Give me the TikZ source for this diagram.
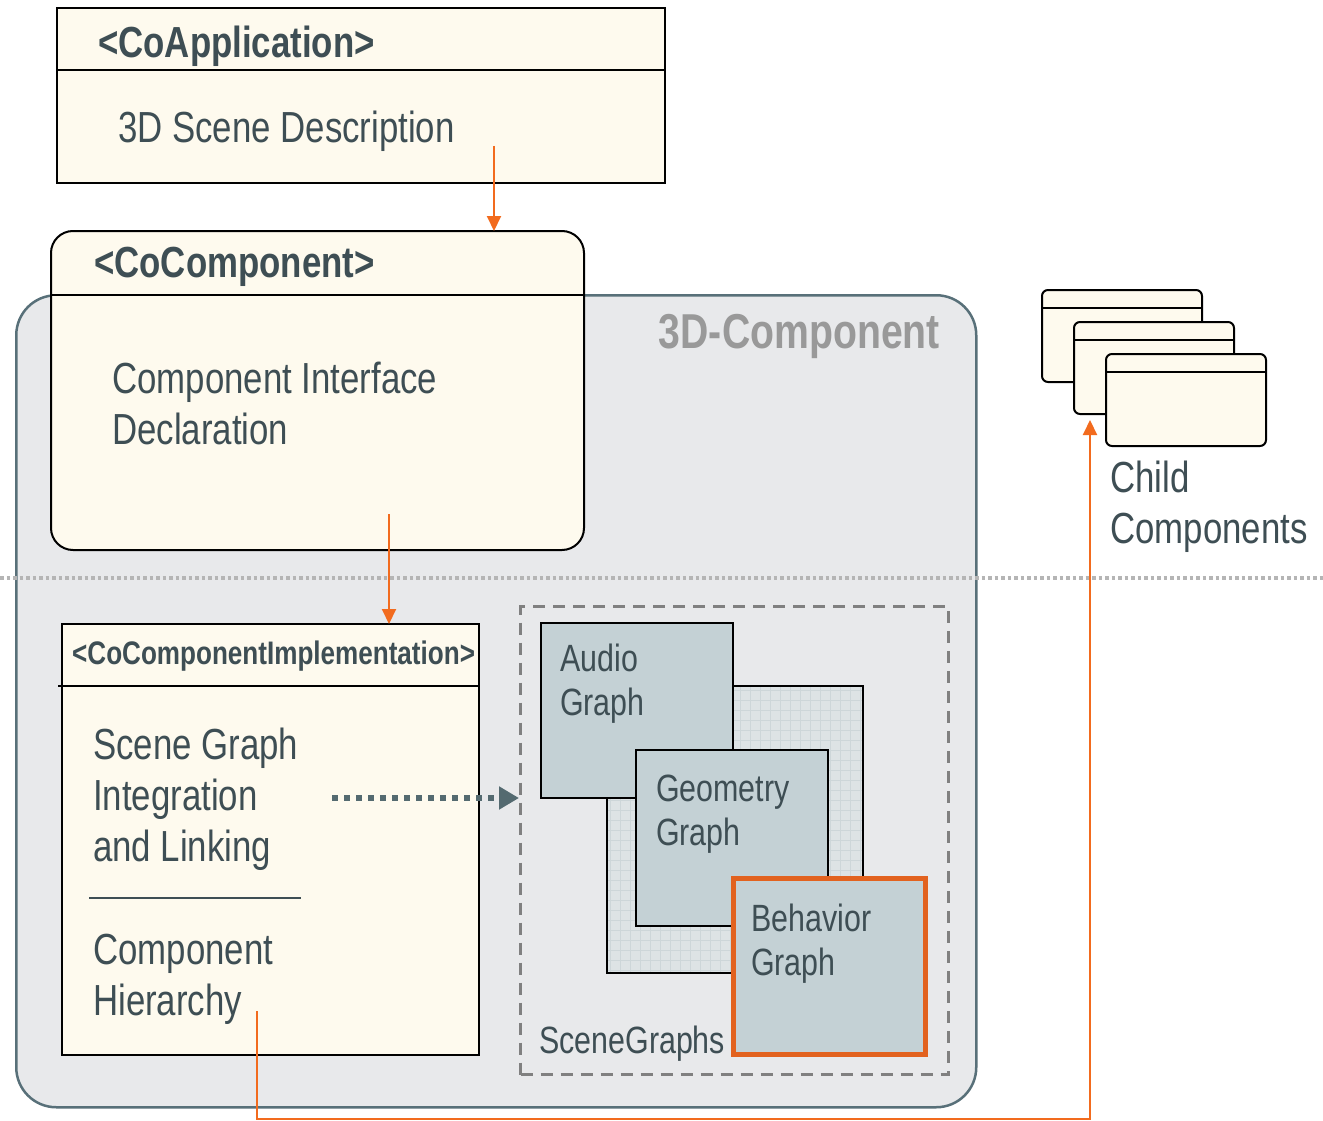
\documentclass[tikz,border=0pt]{standalone}
\usepackage{fontspec}
\setmainfont{Liberation Sans}[FakeStretch=0.8]
\usetikzlibrary{arrows.meta}

\definecolor{cream}{HTML}{FEFAEE}
\definecolor{panel}{HTML}{E8E9EB}
\definecolor{panelrim}{HTML}{587079}
\definecolor{slate}{HTML}{3E4E54}
\definecolor{sgfill}{HTML}{C4D1D5}
\definecolor{gridfill}{HTML}{DDE3E5}
\definecolor{gridline}{HTML}{CDD6D9}
\definecolor{flow}{HTML}{F26B1E}
\definecolor{hilite}{HTML}{E2621F}
\definecolor{dashgray}{HTML}{808080}
\definecolor{dotgray}{HTML}{B5B5B5}
\definecolor{linkgray}{HTML}{546A70}
\definecolor{titlegray}{HTML}{999999}

\tikzset{
  box/.style={draw=black, line width=2pt, fill=cream, inner sep=0pt, outer sep=0pt, anchor=north west},
  graphbox/.style={draw=black, line width=2pt, fill=sgfill, inner sep=0pt, outer sep=0pt, anchor=north west},
  body/.style={text=slate, inner sep=0pt, anchor=west, align=left, font=\fontsize{43.5}{51}\selectfont},
  small/.style={text=slate, inner sep=0pt, anchor=west, align=left, font=\fontsize{38}{44}\selectfont},
  head/.style={text=slate, inner sep=0pt, anchor=west, font=\bfseries\fontsize{43.5}{51}\selectfont},
  flowarrow/.style={draw=flow, line width=2pt, -{Triangle[length=15pt,width=14pt]}},
}

\begin{document}
\begin{tikzpicture}[x=1pt,y=-1pt]
\useasboundingbox[fill=white] (0,0) rectangle (1323,1121);

% container of the 3D component
\node[draw=panelrim, line width=2.5pt, fill=panel, rounded corners=40pt, inner sep=0pt,
      minimum width=960pt, minimum height=812pt, anchor=north west] (panel) at (15,294) {};
\node[text=titlegray, inner sep=0pt, anchor=east, font=\bfseries\fontsize{49}{56}\selectfont]
      (paneltitle) at (940,336) {3D-Component};

% dotted separator
\draw[dotgray, line width=3.5pt, dash pattern=on 3.5pt off 3pt] (0,578) coordinate (sepL) -- (1323,578) coordinate (sepR);

% application
\node[box, minimum width=608pt, minimum height=175pt] (app) at (57,8) {};
\draw[line width=2pt] ([yshift=-62pt]app.north west) -- ([yshift=-62pt]app.north east);
\node[head] (apptitle) at (98,46) {<CoApplication>};
\node[body] (apptext) at (118,131.5) {3D Scene Description};

% component
\node[box, rounded corners=22pt, minimum width=533pt, minimum height=319pt] (comp) at (51,231) {};
\draw[line width=2pt] ([yshift=-64pt]comp.north west) -- ([yshift=-64pt]comp.north east);
\node[head] (comptitle) at (94,267) {<CoComponent>};
\node[body] (comptext) at (112,403.5) {Component Interface\\Declaration};

% implementation
\node[box, minimum width=417pt, minimum height=431pt] (impl) at (62,624) {};
\draw[line width=2pt] (58,686) coordinate (implL) -- (impl.east |- implL);
\node[text=slate, inner sep=0pt, anchor=west, font=\bfseries\fontsize{32.6}{38}\selectfont]
      (impltitle) at (72,656) {<CoComponentImplementation>};
\node[body] (impltext) at (93,799.5) {Scene Graph\\Integration\\and Linking};
\draw[slate, line width=2pt] (89,898) coordinate (ruleL) -- (301,898) coordinate (ruleR);
\node[body] (hiertext) at (93,979.5) {Component\\Hierarchy};

% scene graphs group
\node[draw=dashgray, line width=3pt, dash pattern=on 12pt off 8pt, inner sep=0pt,
      minimum width=428pt, minimum height=468pt, anchor=north west] (sg) at (519,605) {};
\node[text=slate, inner sep=0pt, anchor=west, font=\fontsize{38}{44}\selectfont] (sgtitle) at (539,1043.5) {SceneGraphs};

\node[draw=black, line width=2pt, fill=gridfill, inner sep=0pt, outer sep=0pt,
      minimum width=256pt, minimum height=287pt, anchor=north west] (gridbox) at (607,686) {};
\begin{scope}
  \clip (gridbox.south west) rectangle (gridbox.north east);
  \draw[gridline, line width=0.6pt, step=10pt] (gridbox.south west) grid (gridbox.north east);
\end{scope}
\draw[line width=2pt] (gridbox.south west) rectangle (gridbox.north east);

\node[graphbox, minimum width=192pt, minimum height=175pt] (audio) at (541,623) {};
\node[small] (audiotext) at (560,683.5) {Audio\\Graph};
\node[graphbox, minimum width=192pt, minimum height=176pt] (geom) at (636,750) {};
\node[small] (geomtext) at (656,814.5) {Geometry\\Graph};
\node[graphbox, draw=hilite, line width=5pt, minimum width=192pt, minimum height=176pt] (behav) at (733,878) {};
\node[small] (behavtext) at (751,943.5) {Behavior\\Graph};

% child components
\foreach \i/\x/\y in {1/1042/290, 2/1074/322, 3/1106/354} {
  \node[box, rounded corners=6pt, minimum width=160pt, minimum height=92pt] (child\i) at (\x,\y) {};
  \draw[line width=2pt] ([yshift=-18pt]child\i.north west) -- ([yshift=-18pt]child\i.north east);
}
\node[body] (childtext) at (1110,506.5) {Child\\Components};

% connectors
\coordinate (appout) at (494,146);
\draw[flowarrow] (appout) -- (appout |- comp.north);
\coordinate (compout) at (389,514);
\draw[flowarrow] (compout) -- (compout |- impl.north);
\draw[linkgray, line width=6pt, dash pattern=on 6pt off 6pt,
      -{Triangle[length=20pt,width=22pt]}] (332,798) coordinate (linkstart) -- (linkstart -| sg.west);
\coordinate (hierout) at (257,1011);
\coordinate (childin) at (1090,420);
\draw[flowarrow] (hierout) -- (hierout |- 0,1119) -- (childin |- 0,1119) -- (childin);
\end{tikzpicture}
\end{document}
